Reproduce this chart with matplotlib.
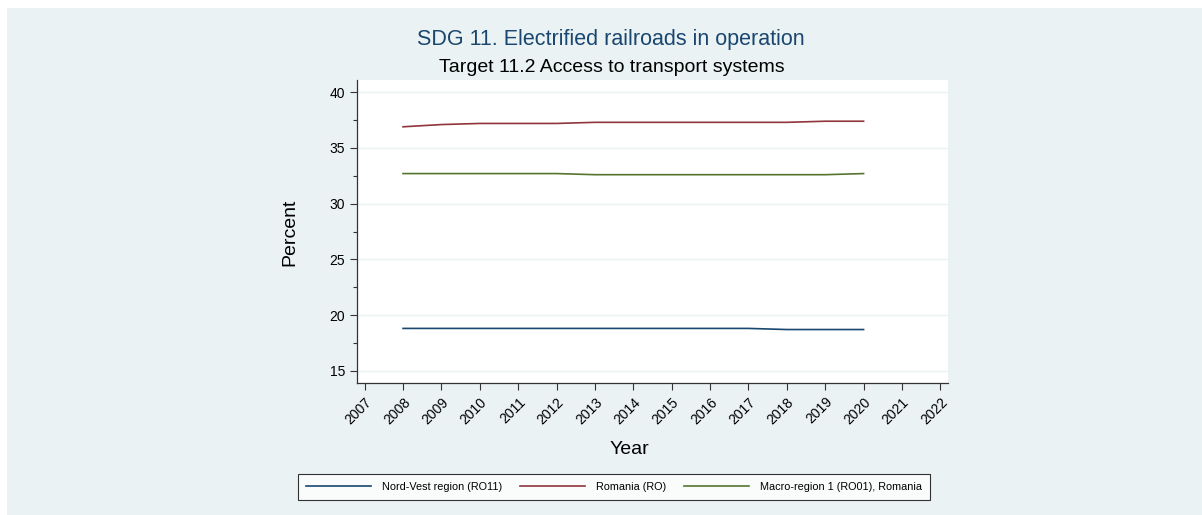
import matplotlib
matplotlib.use("Agg")
import matplotlib.pyplot as plt
from matplotlib.patches import Rectangle

plt.rcParams['font.family'] = ['Liberation Sans', 'DejaVu Sans']

years = [2008, 2009, 2010, 2011, 2012, 2013, 2014, 2015, 2016, 2017, 2018, 2019, 2020]
nord_vest = [18.8, 18.8, 18.8, 18.8, 18.8, 18.8, 18.8, 18.8, 18.8, 18.8, 18.7, 18.7, 18.7]
romania = [36.9, 37.1, 37.2, 37.2, 37.2, 37.3, 37.3, 37.3, 37.3, 37.3, 37.3, 37.4, 37.4]
macro = [32.7, 32.7, 32.7, 32.7, 32.7, 32.6, 32.6, 32.6, 32.6, 32.6, 32.6, 32.6, 32.7]
series_labels = ["Nord-Vest region (RO11)", "Romania (RO)", "Macro-region 1 (RO01), Romania"]
xticks = list(range(2007, 2023))
yticks = [15, 20, 25, 30, 35, 40]

W, H = 1202, 515
fig = plt.figure(figsize=(W / 100, H / 100), dpi=100, facecolor='white')
fig.patches.append(Rectangle((7 / W, 0), 1 - 7 / W, 1 - 8 / H, transform=fig.transFigure,
                             facecolor='#eaf2f3', edgecolor='none', zorder=-10))

ax = fig.add_axes([357 / W, 1 - 383 / H, (948 - 357) / W, (383 - 80) / H])
ax.set_facecolor('white')

c_navy, c_maroon, c_green = '#1a476f', '#90353b', '#55752f'
l1, = ax.plot(years, nord_vest, color=c_navy, lw=1.2)
l2, = ax.plot(years, romania, color=c_maroon, lw=1.2)
l3, = ax.plot(years, macro, color=c_green, lw=1.2)

ax.set_xlim(2006.8, 2022.2)
ax.set_ylim(13.9, 41.1)
ax.set_yticks(yticks)
ax.set_yticks([17.5, 22.5, 27.5, 32.5, 37.5], minor=True)
ax.set_xticks(xticks)
ax.set_xticklabels([str(x) for x in xticks], rotation=45, ha='right', rotation_mode='anchor')
ax.tick_params(axis='both', which='major', labelsize=10, length=5, width=0.8, color='#333333')
ax.tick_params(axis='y', which='minor', length=3, width=0.8, color='#333333')
ax.grid(axis='y', which='major', color='#eaf2f3', lw=1)
ax.set_axisbelow(True)
for s in ['top', 'right']:
    ax.spines[s].set_visible(False)
for s in ['left', 'bottom']:
    ax.spines[s].set_color('#333333')
    ax.spines[s].set_linewidth(0.9)

fig.text(290 / W, 1 - 232 / H, 'Percent', fontsize=14, ha='center', va='center', rotation=90)
fig.text(629 / W, 1 - 450 / H, 'Year', fontsize=14, ha='center', va='center')

fig.text(611 / W, 1 - 39 / H, 'SDG 11. Electrified railroads in operation', fontsize=15.5,
         color='#1a476f', ha='center', va='center')
fig.text(612 / W, 1 - 67 / H, 'Target 11.2 Access to transport systems', fontsize=14,
         color='black', ha='center', va='center')

leg = fig.legend([l1, l2, l3], series_labels, loc='center', ncol=3,
                 bbox_to_anchor=(614 / W, 1 - 487 / H), fontsize=7.8,
                 frameon=True, fancybox=False, edgecolor='black', facecolor='white',
                 handlelength=6.0, columnspacing=1.7, borderpad=0.7, handletextpad=1.0,
                 borderaxespad=0)
leg.get_frame().set_linewidth(0.8)

fig.savefig('out.png', dpi=100, facecolor='white')
